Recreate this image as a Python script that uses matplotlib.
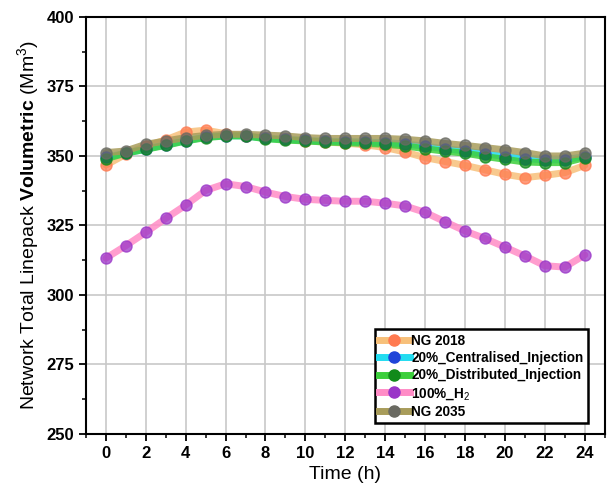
import matplotlib
matplotlib.use("Agg")
import matplotlib.pyplot as plt
from matplotlib.ticker import MultipleLocator
from matplotlib.lines import Line2D

plt.rcParams['font.family'] = ['Liberation Sans', 'DejaVu Sans']
plt.rcParams['mathtext.fontset'] = 'custom'
plt.rcParams['mathtext.rm'] = 'Liberation Sans'
plt.rcParams['mathtext.bf'] = 'Liberation Sans:bold'
plt.rcParams['mathtext.it'] = 'Liberation Sans:italic'

hours = list(range(25))
ng2018 = [346.7, 350.6, 353.5, 355.8, 358.6, 359.3, 358.0, 357.3, 356.5, 356.0, 355.5, 355.0, 354.6, 354.0, 353.0,
          351.4, 349.4, 348.0, 346.6, 345.0, 343.4, 342.2, 343.0, 344.0, 346.6]
central = [349.5, 351.0, 352.5, 354.0, 355.5, 356.8, 357.3, 357.2, 356.3, 356.0, 355.6, 355.3, 355.2, 355.0, 354.8,
           354.3, 353.5, 352.6, 351.8, 350.8, 349.8, 349.0, 348.6, 348.6, 349.8]
distrib = [349.0, 351.0, 352.4, 353.8, 355.4, 356.6, 357.2, 357.2, 356.2, 355.7, 355.4, 355.0, 354.8, 354.5, 354.2,
           353.6, 352.6, 351.7, 351.0, 349.8, 348.8, 347.8, 347.6, 347.6, 349.4]
h2_100 = [313.2, 317.7, 322.5, 327.5, 332.3, 337.6, 340.0, 339.0, 337.0, 335.4, 334.4, 334.0, 333.7, 333.7, 333.0,
          332.0, 329.7, 326.3, 323.0, 320.3, 317.2, 314.0, 310.5, 310.0, 314.4]
ng2035 = [351.2, 351.8, 354.2, 355.4, 356.6, 357.4, 357.8, 357.8, 357.5, 357.2, 356.6, 356.3, 356.3, 356.3, 356.3,
          356.0, 355.4, 354.5, 353.8, 353.0, 352.2, 351.2, 350.0, 350.0, 351.0]

labels = ["NG 2018", "20%_Centralised_Injection", "20%_Distributed_Injection", "100%_H$_2$", "NG 2035"]
line_colors = ["#f7c07a", "#22dcf0", "#3ccf3c", "#ff8cc6", "#a89c5a"]
marker_colors = ["#ff7a50", "#1f44d8", "#118a1a", "#9a35c8", "#6a6a62"]
series = [ng2018, central, distrib, h2_100, ng2035]

fig = plt.figure(figsize=(6.09, 4.93), dpi=100)
ax = fig.add_axes([0.141, 0.120, 0.852, 0.8455])

for ys, lab, lc, mc in zip(series, labels, line_colors, marker_colors):
    ax.plot(hours, ys, color=lc, lw=5, alpha=0.85, solid_capstyle='round', zorder=2)
    ax.plot(hours, ys, linestyle='none', marker='o', ms=8, mfc=mc, mec=mc, alpha=0.75, zorder=3)

handles = [Line2D([0], [0], color=lc, lw=5, marker='o', ms=8, mfc=mc, mec=mc)
           for lc, mc in zip(line_colors, marker_colors)]
leg = ax.legend(handles, labels, loc='lower right', bbox_to_anchor=(0.967, 0.026),
                prop={'weight': 'bold', 'size': 9.8}, fancybox=False, edgecolor='black',
                framealpha=1, handlelength=2.3, handletextpad=0.1, labelspacing=0.25,
                borderpad=0.3, borderaxespad=0)
leg.get_frame().set_linewidth(1.8)

ax.set_xlim(-1, 25)
ax.set_ylim(250, 400)
ax.xaxis.set_major_locator(MultipleLocator(2))
ax.xaxis.set_minor_locator(MultipleLocator(1))
ax.yaxis.set_major_locator(MultipleLocator(25))
ax.yaxis.set_minor_locator(MultipleLocator(12.5))
ax.grid(True, which='major', color='#c8c8c8', lw=1.2, zorder=0)
ax.set_axisbelow(True)
ax.tick_params(which='major', direction='out', length=5, width=1.3, labelsize=12)
ax.tick_params(which='minor', direction='out', length=3, width=1.1)
for lbl in ax.get_xticklabels() + ax.get_yticklabels():
    lbl.set_fontweight('bold')
for sp in ax.spines.values():
    sp.set_linewidth(1.5)

ax.set_xlabel("Time (h)", fontsize=14)
ax.set_ylabel(r"Network Total Linepack $\mathbf{Volumetric}$ (Mm$^3$)", fontsize=14)

fig.savefig("out.png", dpi=100)
